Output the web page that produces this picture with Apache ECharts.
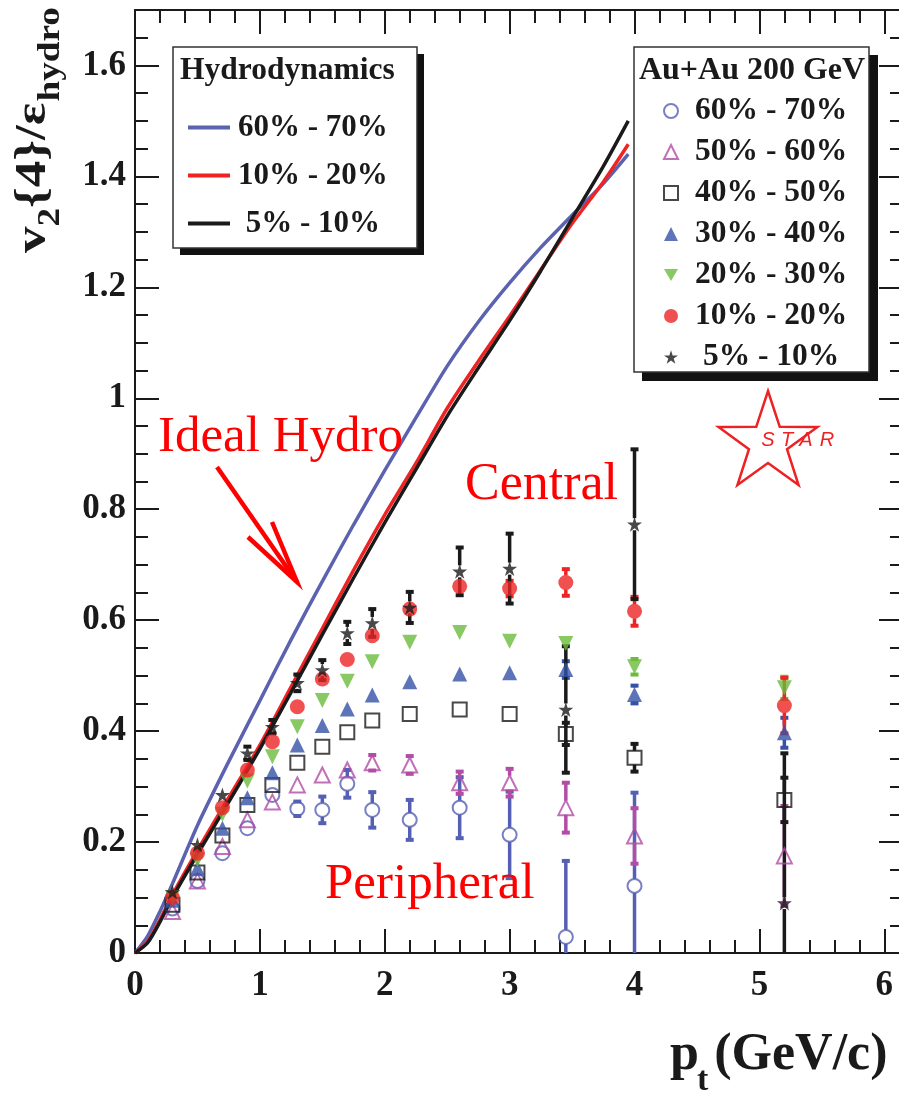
<!DOCTYPE html>
<html>
<head>
<meta charset="utf-8">
<script src="https://cdn.jsdelivr.net/npm/echarts@6/dist/echarts.min.js"></script>
<style>
html, body { margin: 0; padding: 0; background: #ffffff; }
#chart { width: 899px; height: 1102px; }
</style>
</head>
<body>
<div id="chart"></div>
<script>
// transverse-momentum bin centres (GeV/c)
const ptBins = [0.3, 0.5, 0.7, 0.9, 1.1, 1.3, 1.5, 1.7, 1.9, 2.2, 2.6, 3.0, 3.45, 4.0, 5.2];

// v2{4}/eps_hydro per centrality class, with statistical errors
const v60_70 = [0.08, 0.13, 0.18, 0.225, 0.285, 0.26, 0.258, 0.305, 0.258, 0.24, 0.262, 0.213, 0.029, 0.121];
const e60_70 = [0.005, 0.005, 0.005, 0.005, 0.008, 0.013, 0.024, 0.025, 0.032, 0.036, 0.055, 0.078, 0.137, 0.168];
const v50_60 = [0.075, 0.13, 0.192, 0.24, 0.272, 0.303, 0.321, 0.33, 0.343, 0.339, 0.307, 0.307, 0.262, 0.211, 0.175];
const e50_60 = [0.005, 0.005, 0.005, 0.006, 0.007, 0.008, 0.01, 0.012, 0.014, 0.016, 0.02, 0.025, 0.045, 0.05, 0.09];
const v40_50 = [0.087, 0.145, 0.212, 0.267, 0.303, 0.343, 0.372, 0.398, 0.419, 0.431, 0.439, 0.431, 0.395, 0.352, 0.276];
const e40_50 = [0.004, 0.004, 0.004, 0.005, 0.005, 0.006, 0.007, 0.008, 0.009, 0.01, 0.011, 0.012, 0.02, 0.025, 0.04];
const v30_40 = [0.095, 0.153, 0.225, 0.28, 0.325, 0.375, 0.41, 0.44, 0.465, 0.489, 0.503, 0.505, 0.511, 0.466, 0.397];
const e30_40 = [0.004, 0.004, 0.004, 0.004, 0.005, 0.005, 0.006, 0.006, 0.007, 0.008, 0.009, 0.01, 0.015, 0.016, 0.027];
const v20_30 = [0.10, 0.168, 0.25, 0.31, 0.354, 0.408, 0.455, 0.49, 0.525, 0.56, 0.578, 0.562, 0.558, 0.516, 0.478];
const e20_30 = [0.004, 0.004, 0.004, 0.004, 0.005, 0.005, 0.006, 0.006, 0.007, 0.008, 0.009, 0.01, 0.011, 0.014, 0.02];
const v10_20 = [0.10, 0.18, 0.262, 0.33, 0.381, 0.444, 0.494, 0.529, 0.572, 0.62, 0.661, 0.657, 0.668, 0.616, 0.446];
const e10_20 = [0.004, 0.004, 0.004, 0.005, 0.005, 0.006, 0.007, 0.008, 0.009, 0.01, 0.012, 0.014, 0.024, 0.026, 0.05];
const v5_10 = [0.11, 0.195, 0.285, 0.36, 0.408, 0.487, 0.51, 0.577, 0.595, 0.623, 0.688, 0.693, 0.439, 0.773, 0.09];
const e5_10 = [0.01, 0.01, 0.01, 0.012, 0.012, 0.015, 0.018, 0.02, 0.025, 0.028, 0.043, 0.063, 0.114, 0.135, 0.27];

// ideal hydrodynamics curves
const hydroPt = [0, 0.1, 0.2, 0.3, 0.5, 0.75, 1.0, 1.25, 1.5, 1.75, 2.0, 2.25, 2.5, 2.75, 3.0, 3.25, 3.5, 3.75, 3.95];
const hydro60_70 = [0, 0.03, 0.075, 0.125, 0.23, 0.345, 0.455, 0.565, 0.67, 0.772, 0.87, 0.965, 1.058, 1.138, 1.208, 1.272, 1.33, 1.387, 1.44];
const hydro10_20 = [0, 0.02, 0.06, 0.105, 0.185, 0.28, 0.375, 0.48, 0.585, 0.69, 0.79, 0.883, 0.982, 1.067, 1.148, 1.232, 1.315, 1.39, 1.458];
const hydro5_10 = [0, 0.018, 0.056, 0.1, 0.178, 0.272, 0.368, 0.47, 0.574, 0.676, 0.776, 0.872, 0.968, 1.055, 1.14, 1.23, 1.324, 1.418, 1.50];

const SERIF = '"Liberation Serif", "Times New Roman", serif';
const INK = '#1a1a1a';
const C_BLUE_LINE = '#5b63b1';
const C_RED = '#ee2424';
const C_CIRCLE = '#5560b4';
const C_MAGENTA = '#b24ca6';
const C_TRI = '#3552a6';
const C_GREEN = '#6cbb3c';

const STAR_PATH = 'path://M50,0 L61.8,36.2 L100,36.2 L69.1,58.8 L80.9,95.1 L50,72.7 L19.1,95.1 L30.9,58.8 L0,36.2 L38.2,36.2 Z';
const TRI_DOWN_PATH = 'path://M0,0 L100,0 L50,86.6 Z';

const chart = echarts.init(document.getElementById('chart'), null, { renderer: 'canvas' });

function pairs(xs, ys) { return ys.map((y, i) => [xs[i], y]); }

// error bars drawn outside the marker, with short block caps
function errorBars(name, vals, errs, color, half) {
  return {
    type: 'custom',
    name: name + ' (err)',
    data: vals.map((v, i) => [ptBins[i], v, errs[i]]),
    clip: true,
    z: 3,
    silent: true,
    renderItem(params, api) {
      const x = api.value(0), y = api.value(1), e = api.value(2);
      const c = api.coord([x, y]);
      const t = api.coord([x, y + e]);
      const b = api.coord([x, y - e]);
      const kids = [];
      if (c[1] - t[1] > half) {
        kids.push({ type: 'line', shape: { x1: c[0], y1: c[1] - half, x2: c[0], y2: t[1] }, style: { stroke: color, lineWidth: 3.5 } });
        kids.push({ type: 'rect', shape: { x: c[0] - 4, y: t[1] - 2, width: 8, height: 4 }, style: { fill: color } });
        kids.push({ type: 'line', shape: { x1: c[0], y1: c[1] + half, x2: c[0], y2: b[1] }, style: { stroke: color, lineWidth: 3.5 } });
        kids.push({ type: 'rect', shape: { x: c[0] - 4, y: b[1] - 2, width: 8, height: 4 }, style: { fill: color } });
      }
      return { type: 'group', children: kids };
    }
  };
}

function points(name, vals, symbol, color, filled, size) {
  return {
    type: 'scatter',
    name: name,
    data: pairs(ptBins, vals),
    symbol: symbol,
    symbolSize: size,
    z: 4,
    itemStyle: filled
      ? { color: color, borderWidth: 0 }
      : { color: 'rgba(255,255,255,0)', borderColor: color, borderWidth: 2 }
  };
}

function hydro(name, vals, color) {
  return {
    type: 'line',
    name: name,
    data: pairs(hydroPt, vals),
    symbol: 'none',
    smooth: 0.25,
    z: 2,
    lineStyle: { color: color, width: 3.5 },
    itemStyle: { color: color }
  };
}

// measure helper for hand-set axis titles
const measureCtx = document.createElement('canvas').getContext('2d');
function runs(list, weight) {
  let x = 0;
  const kids = [];
  list.forEach(r => {
    const font = weight + ' ' + r.size + 'px ' + SERIF;
    measureCtx.font = font;
    kids.push({
      type: 'text',
      x: x, y: r.dy,
      style: { text: r.text, font: font, fill: INK, textVerticalAlign: 'bottom' }
    });
    x += measureCtx.measureText(r.text).width + (r.gap || 0);
  });
  return kids;
}

const axisLine = { show: true, onZero: false, lineStyle: { color: INK, width: 2 } };
const majorTick = { show: true, inside: true, length: 24, lineStyle: { color: INK, width: 2 } };
const minorTick = (n) => ({ show: true, splitNumber: n, length: 13, lineStyle: { color: INK, width: 2 } });
const tickFont = { fontFamily: SERIF, fontWeight: 'bold', fontSize: 35, color: INK };

const option = {
  animation: false,
  backgroundColor: '#ffffff',
  grid: { left: 135, top: 10, width: 768, height: 943, outerBoundsMode: 'none', containLabel: false },
  xAxis: [
    {
      type: 'value', min: 0, max: 6.15, interval: 1, position: 'bottom',
      axisLine: axisLine, axisTick: majorTick, minorTick: minorTick(5),
      splitLine: { show: false },
      axisLabel: Object.assign({ show: true, margin: 15, showMaxLabel: false }, tickFont)
    },
    {
      type: 'value', min: 0, max: 6.15, interval: 1, position: 'top',
      axisLine: axisLine, axisTick: majorTick, minorTick: minorTick(5),
      splitLine: { show: false },
      axisLabel: { show: false }
    }
  ],
  yAxis: [
    {
      type: 'value', min: 0, max: 1.7, interval: 0.2, position: 'left',
      axisLine: axisLine, axisTick: majorTick, minorTick: minorTick(4),
      splitLine: { show: false },
      axisLabel: Object.assign({ show: true, margin: 9, showMaxLabel: false }, tickFont)
    },
    {
      type: 'value', min: 0, max: 1.7, interval: 0.2, position: 'right',
      axisLine: axisLine, axisTick: majorTick, minorTick: minorTick(4),
      splitLine: { show: false },
      axisLabel: { show: false }
    }
  ],
  legend: [
    {
      data: ['Hydro 60% - 70%', 'Hydro 10% - 20%', 'Hydro 5% - 10%'],
      orient: 'vertical', left: 183, top: 107, z: 20,
      icon: 'rect', itemWidth: 42, itemHeight: 4, itemGap: 17,
      selectedMode: false,
      formatter: n => n === 'Hydro 5% - 10%' ? ' 5% - 10%' : n.replace('Hydro ', ''),
      textStyle: { fontFamily: SERIF, fontWeight: 'bold', fontSize: 31, color: INK, lineHeight: 31, padding: [0, 0, 0, 3] }
    },
    {
      data: ['60% - 70%', '50% - 60%', '40% - 50%', '30% - 40%', '20% - 30%', '10% - 20%', '5% - 10%'],
      orient: 'vertical', left: 658, top: 90, z: 20,
      itemWidth: 14, itemHeight: 14, itemGap: 9,
      selectedMode: false,
      formatter: n => n === '5% - 10%' ? ' 5% - 10%' : n,
      textStyle: { fontFamily: SERIF, fontWeight: 'bold', fontSize: 31.5, color: INK, lineHeight: 31, padding: [0, 0, 0, 12] }
    }
  ],
  series: [
    hydro('Hydro 60% - 70%', hydro60_70, C_BLUE_LINE),
    hydro('Hydro 10% - 20%', hydro10_20, C_RED),
    hydro('Hydro 5% - 10%', hydro5_10, INK),

    errorBars('60% - 70%', v60_70, e60_70, C_CIRCLE, 7),
    errorBars('50% - 60%', v50_60, e50_60, C_MAGENTA, 7),
    errorBars('40% - 50%', v40_50, e40_50, INK, 7),
    errorBars('30% - 40%', v30_40, e30_40, C_TRI, 7),
    errorBars('20% - 30%', v20_30, e20_30, C_GREEN, 7),
    errorBars('10% - 20%', v10_20, e10_20, C_RED, 7),
    errorBars('5% - 10%', v5_10, e5_10, INK, 6),

    points('60% - 70%', v60_70, 'circle', C_CIRCLE, false, 14),
    points('50% - 60%', v50_60, 'triangle', C_MAGENTA, false, 15),
    points('40% - 50%', v40_50, 'rect', INK, false, 14),
    points('30% - 40%', v30_40, 'triangle', C_TRI, true, 15),
    points('20% - 30%', v20_30, TRI_DOWN_PATH, C_GREEN, true, 15),
    points('10% - 20%', v10_20, 'circle', C_RED, true, 15),
    points('5% - 10%', v5_10, STAR_PATH, INK, true, 15)
  ],
  graphic: [
    // legend frames with drop shadows
    { type: 'rect', z: 1, shape: { x: 180, y: 54, width: 244, height: 201 }, style: { fill: '#111' } },
    { type: 'rect', z: 1, shape: { x: 173, y: 47, width: 244, height: 201 }, style: { fill: '#fff', stroke: '#333', lineWidth: 1.5 } },
    { type: 'text', z: 1, x: 180, y: 71, style: { text: 'Hydrodynamics', font: 'bold 31.5px ' + SERIF, fill: INK, textVerticalAlign: 'middle' } },

    { type: 'rect', z: 1, shape: { x: 642, y: 55, width: 236, height: 326 }, style: { fill: '#111' } },
    { type: 'rect', z: 1, shape: { x: 634, y: 47, width: 235, height: 325 }, style: { fill: '#fff', stroke: '#333', lineWidth: 1.5 } },
    { type: 'text', z: 1, x: 752, y: 71, style: { text: 'Au+Au 200 GeV', font: 'bold 32px ' + SERIF, fill: INK, textAlign: 'center', textVerticalAlign: 'middle' } },

    // annotations
    { type: 'text', x: 158, y: 438, z: 6, style: { text: 'Ideal Hydro', font: '51px ' + SERIF, fill: '#ff0000', textVerticalAlign: 'middle' } },
    { type: 'polyline', z: 6, shape: { points: [[217, 467], [297, 582]] }, style: { stroke: '#ff0000', lineWidth: 4.5, fill: null } },
    { type: 'polyline', z: 6, shape: { points: [[248, 537], [297, 582], [272, 522]] }, style: { stroke: '#ff0000', lineWidth: 4.5, fill: null } },
    { type: 'text', x: 465, y: 485, z: 6, style: { text: 'Central', font: '52px ' + SERIF, fill: '#ff0000', textVerticalAlign: 'middle' } },
    { type: 'text', x: 325, y: 885, z: 6, style: { text: 'Peripheral', font: '51px ' + SERIF, fill: '#ff0000', textVerticalAlign: 'middle' } },

    // experiment logo
    {
      type: 'polygon', z: 6,
      shape: { points: (function () {
        const pts = [];
        for (let k = 0; k < 10; k++) {
          const r = k % 2 === 0 ? 52 : 20;
          const a = -Math.PI / 2 + k * Math.PI / 5;
          pts.push([768 + r * Math.cos(a), 443 + r * Math.sin(a)]);
        }
        return pts;
      })() },
      style: { fill: null, stroke: '#ee2222', lineWidth: 2.5 }
    },
    { type: 'text', x: 768, y: 440, z: 7, style: { text: 'S', font: 'italic 20px "Liberation Sans", Arial, sans-serif', fill: '#ee2222', textAlign: 'center', textVerticalAlign: 'middle' } },
    { type: 'text', x: 787, y: 440, z: 7, style: { text: 'T', font: 'italic 20px "Liberation Sans", Arial, sans-serif', fill: '#ee2222', textAlign: 'center', textVerticalAlign: 'middle' } },
    { type: 'text', x: 806, y: 440, z: 7, style: { text: 'A', font: 'italic 20px "Liberation Sans", Arial, sans-serif', fill: '#ee2222', textAlign: 'center', textVerticalAlign: 'middle' } },
    { type: 'text', x: 827, y: 440, z: 7, style: { text: 'R', font: 'italic 20px "Liberation Sans", Arial, sans-serif', fill: '#ee2222', textAlign: 'center', textVerticalAlign: 'middle' } },

    // axis titles
    {
      type: 'group', x: 56, y: 253, rotation: Math.PI / 2, scaleX: 1.2, z: 6,
      children: runs([
        { text: 'v', size: 44, dy: 0 },
        { text: '2', size: 31, dy: 10 },
        { text: '{4}/', size: 44, dy: 0 },
        { text: 'ε', size: 44, dy: 0, gap: 1 },
        { text: 'hydro', size: 31, dy: 10 }
      ], 'bold')
    },
    {
      type: 'group', x: 670, y: 1082, z: 6,
      children: runs([
        { text: 'p', size: 52, dy: 0, gap: -2 },
        { text: 't', size: 34, dy: 16, gap: 6 },
        { text: '(GeV/c)', size: 52, dy: 0 }
      ], 'bold')
    }
  ]
};

chart.setOption(option);
</script>
</body>
</html>
